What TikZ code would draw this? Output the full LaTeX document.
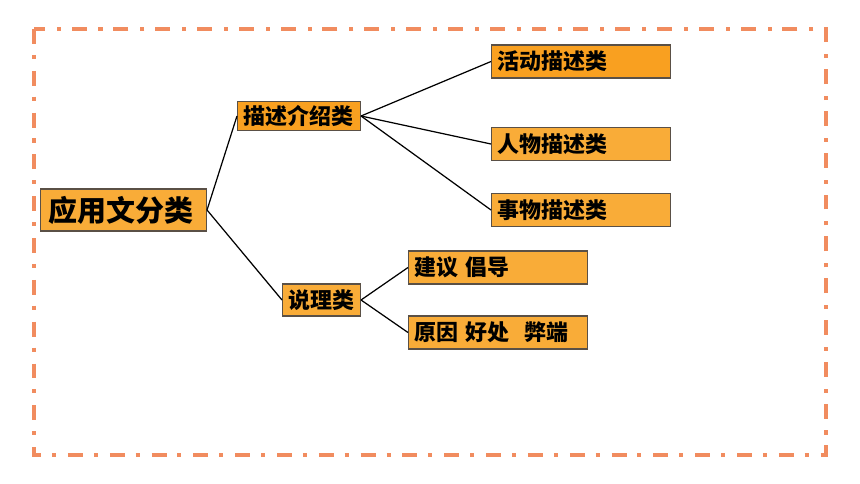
\documentclass[tikz,border=0pt]{standalone}
\usepackage{fontspec}
\newfontfamily\cjk{Noto Sans CJK SC}
\definecolor{framecol}{RGB}{241,140,95}
\definecolor{boxdark}{RGB}{249,160,32}
\definecolor{boxlight}{RGB}{249,172,56}
\definecolor{boxline}{RGB}{90,80,70}

\begin{document}
\begin{tikzpicture}[x=0.02cm, y=-0.02cm,
   frame/.style={draw=framecol, line width=2.3pt,
       dash pattern=on 8.5pt off 6.2pt on 2.3pt off 6.8pt},
   box/.style={draw=boxline, line width=0.6pt, fill=boxlight, anchor=west,
       inner xsep=0.12cm, inner ysep=0pt, align=left,
       font=\cjk\bfseries\fontsize{12.5}{14}\selectfont},
   leaf/.style={box, text width=3.34cm, minimum height=0.66cm},
   link/.style={draw=black, line width=0.7pt}]

\useasboundingbox (0,0) rectangle (860,484);
\draw[frame] (34,29) rectangle (826,455);

% root
\node[box, text width=3.0cm, inner xsep=0.16cm, minimum height=0.84cm,
      font=\cjk\bfseries\fontsize{16.5}{18}\selectfont] (root) at (40,210) {应用文分类};

% second level
\node[box, fill=boxdark, text width=2.22cm, minimum height=0.58cm] (desc) at (237,116) {描述介绍类};
\node[box, text width=1.32cm, minimum height=0.64cm] (reason) at (282,300) {说理类};

% leaves
\node[leaf, fill=boxdark] (activity) at (491,61.5) {活动描述类};
\node[leaf] (person) at (491,144) {人物描述类};
\node[leaf] (thing) at (491,210) {事物描述类};
\node[leaf] (advise) at (408,267.5) {建议 倡导};
\node[leaf] (cause) at (408,332.5) {原因 好处\ \ 弊端};

\draw[link] (root.east) -- (desc.west);
\draw[link] (root.east) -- (reason.west);
\foreach \n in {activity,person,thing}
   \draw[link] (desc.east) -- (\n.west);
\foreach \n in {advise,cause}
   \draw[link] (reason.east) -- (\n.west);

\end{tikzpicture}
\end{document}
